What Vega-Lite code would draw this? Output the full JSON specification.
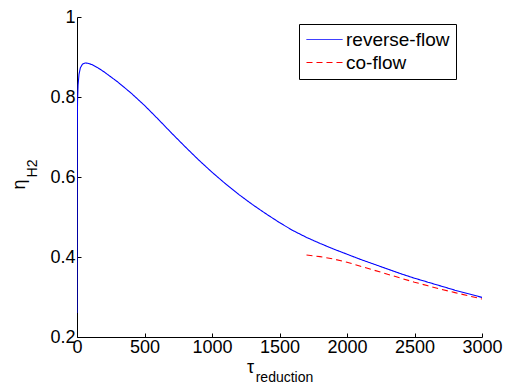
{
  "$schema": "https://vega.github.io/schema/vega-lite/v6.json",
  "width": 405,
  "height": 320,
  "autosize": {"type": "none"},
  "padding": {"left": 77, "top": 17, "right": 24, "bottom": 46},
  "background": "white",
  "config": {
    "view": {"stroke": null},
    "font": "Liberation Sans",
    "axis": {
      "grid": false,
      "domainColor": "black",
      "domainWidth": 1,
      "tickColor": "black",
      "tickWidth": 1,
      "labelColor": "black",
      "labelFont": "Liberation Sans",
      "labelFontSize": 18,
      "labelFlush": false,
      "labelOverlap": false,
      "titleColor": "black",
      "titleFont": "Liberation Sans",
      "titleFontWeight": "normal"
    }
  },
  "datasets": {
    "curves": [
      {"tau": 0, "eta": 0.26, "series": "reverse-flow"},
      {"tau": 1, "eta": 0.55, "series": "reverse-flow"},
      {"tau": 2, "eta": 0.72, "series": "reverse-flow"},
      {"tau": 4, "eta": 0.79, "series": "reverse-flow"},
      {"tau": 8, "eta": 0.83, "series": "reverse-flow"},
      {"tau": 15, "eta": 0.857, "series": "reverse-flow"},
      {"tau": 25, "eta": 0.873, "series": "reverse-flow"},
      {"tau": 40, "eta": 0.882, "series": "reverse-flow"},
      {"tau": 60, "eta": 0.885, "series": "reverse-flow"},
      {"tau": 80, "eta": 0.8845, "series": "reverse-flow"},
      {"tau": 110, "eta": 0.881, "series": "reverse-flow"},
      {"tau": 150, "eta": 0.874, "series": "reverse-flow"},
      {"tau": 200, "eta": 0.863, "series": "reverse-flow"},
      {"tau": 300, "eta": 0.838, "series": "reverse-flow"},
      {"tau": 400, "eta": 0.810, "series": "reverse-flow"},
      {"tau": 500, "eta": 0.779, "series": "reverse-flow"},
      {"tau": 600, "eta": 0.745, "series": "reverse-flow"},
      {"tau": 700, "eta": 0.710, "series": "reverse-flow"},
      {"tau": 800, "eta": 0.676, "series": "reverse-flow"},
      {"tau": 900, "eta": 0.643, "series": "reverse-flow"},
      {"tau": 1000, "eta": 0.612, "series": "reverse-flow"},
      {"tau": 1100, "eta": 0.583, "series": "reverse-flow"},
      {"tau": 1200, "eta": 0.556, "series": "reverse-flow"},
      {"tau": 1300, "eta": 0.531, "series": "reverse-flow"},
      {"tau": 1400, "eta": 0.508, "series": "reverse-flow"},
      {"tau": 1500, "eta": 0.486, "series": "reverse-flow"},
      {"tau": 1600, "eta": 0.466, "series": "reverse-flow"},
      {"tau": 1700, "eta": 0.449, "series": "reverse-flow"},
      {"tau": 1800, "eta": 0.434, "series": "reverse-flow"},
      {"tau": 1900, "eta": 0.42, "series": "reverse-flow"},
      {"tau": 2000, "eta": 0.407, "series": "reverse-flow"},
      {"tau": 2100, "eta": 0.394, "series": "reverse-flow"},
      {"tau": 2200, "eta": 0.382, "series": "reverse-flow"},
      {"tau": 2300, "eta": 0.37, "series": "reverse-flow"},
      {"tau": 2400, "eta": 0.358, "series": "reverse-flow"},
      {"tau": 2500, "eta": 0.347, "series": "reverse-flow"},
      {"tau": 2600, "eta": 0.337, "series": "reverse-flow"},
      {"tau": 2700, "eta": 0.327, "series": "reverse-flow"},
      {"tau": 2800, "eta": 0.317, "series": "reverse-flow"},
      {"tau": 2900, "eta": 0.308, "series": "reverse-flow"},
      {"tau": 3000, "eta": 0.299, "series": "reverse-flow"},
      {"tau": 1700, "eta": 0.405, "series": "co-flow"},
      {"tau": 1800, "eta": 0.401, "series": "co-flow"},
      {"tau": 1900, "eta": 0.395, "series": "co-flow"},
      {"tau": 2000, "eta": 0.387, "series": "co-flow"},
      {"tau": 2100, "eta": 0.377, "series": "co-flow"},
      {"tau": 2200, "eta": 0.367, "series": "co-flow"},
      {"tau": 2300, "eta": 0.357, "series": "co-flow"},
      {"tau": 2400, "eta": 0.347, "series": "co-flow"},
      {"tau": 2500, "eta": 0.337, "series": "co-flow"},
      {"tau": 2600, "eta": 0.328, "series": "co-flow"},
      {"tau": 2700, "eta": 0.319, "series": "co-flow"},
      {"tau": 2800, "eta": 0.311, "series": "co-flow"},
      {"tau": 2900, "eta": 0.303, "series": "co-flow"},
      {"tau": 3000, "eta": 0.295, "series": "co-flow"}
    ]
  },
  "data": {"name": "curves"},
  "layer": [
    {
      "mark": {"type": "line", "strokeWidth": 1.1, "clip": true},
      "encoding": {
        "x": {
          "field": "tau", "type": "quantitative",
          "scale": {"domain": [0, 3000], "nice": false, "zero": false},
          "axis": {
            "orient": "bottom",
            "values": [0, 500, 1000, 1500, 2000, 2500, 3000],
            "format": "d",
            "tickSize": -4,
            "labelPadding": 5,
            "title": "τ",
            "titleFontSize": 18,
            "titleX": 173,
            "titleY": 35,
            "titleAlign": "center",
            "titleBaseline": "alphabetic"
          }
        },
        "y": {
          "field": "eta", "type": "quantitative",
          "scale": {"domain": [0.2, 1], "nice": false, "zero": false},
          "axis": {
            "orient": "left",
            "values": [0.2, 0.4, 0.6, 0.8, 1],
            "format": "~g",
            "tickSize": -4,
            "labelPadding": 6,
            "title": "η",
            "titleFontSize": 18,
            "titleX": -53,
            "titleY": 167,
            "titleAngle": 270,
            "titleAlign": "center",
            "titleBaseline": "alphabetic"
          }
        },
        "color": {
          "field": "series", "type": "nominal",
          "scale": {"domain": ["reverse-flow", "co-flow"], "range": ["#0000ff", "#ff0000"]},
          "legend": {
            "title": null,
            "orient": "none",
            "legendX": 222,
            "legendY": 7,
            "strokeColor": "black",
            "fillColor": "white",
            "padding": 6,
            "labelFontSize": 19,
            "labelFont": "Liberation Sans",
            "labelColor": "black",
            "symbolType": "M-2,0H2",
            "symbolSize": 324,
            "symbolStrokeWidth": 1,
            "symbolOffset": 10,
            "labelOffset": 12,
            "rowPadding": 3,
            "encode": {
              "symbols": {
                "update": {
                  "strokeDash": {"signal": "datum.value === 'co-flow' ? [6, 4] : [1, 0]"}
                }
              }
            }
          }
        },
        "strokeDash": {
          "field": "series", "type": "nominal",
          "scale": {"domain": ["reverse-flow", "co-flow"], "range": [[1, 0], [6, 4]]},
          "legend": null
        }
      }
    },
    {
      "mark": {"type": "line", "strokeOpacity": 0},
      "encoding": {
        "x": {
          "field": "tau", "type": "quantitative",
          "axis": {
            "orient": "bottom",
            "domain": false, "ticks": false, "labels": false,
            "title": "reduction",
            "titleFontSize": 14,
            "titleX": 207,
            "titleY": 44,
            "titleAlign": "center",
            "titleBaseline": "alphabetic"
          }
        },
        "y": {
          "field": "eta", "type": "quantitative",
          "axis": {
            "orient": "left",
            "domain": false, "ticks": false, "labels": false,
            "title": "H2",
            "titleFontSize": 14,
            "titleX": -41,
            "titleY": 151,
            "titleAngle": 270,
            "titleAlign": "center",
            "titleBaseline": "alphabetic"
          }
        },
        "detail": {"field": "series", "type": "nominal"}
      }
    }
  ],
  "resolve": {"axis": {"x": "independent", "y": "independent"}}
}
